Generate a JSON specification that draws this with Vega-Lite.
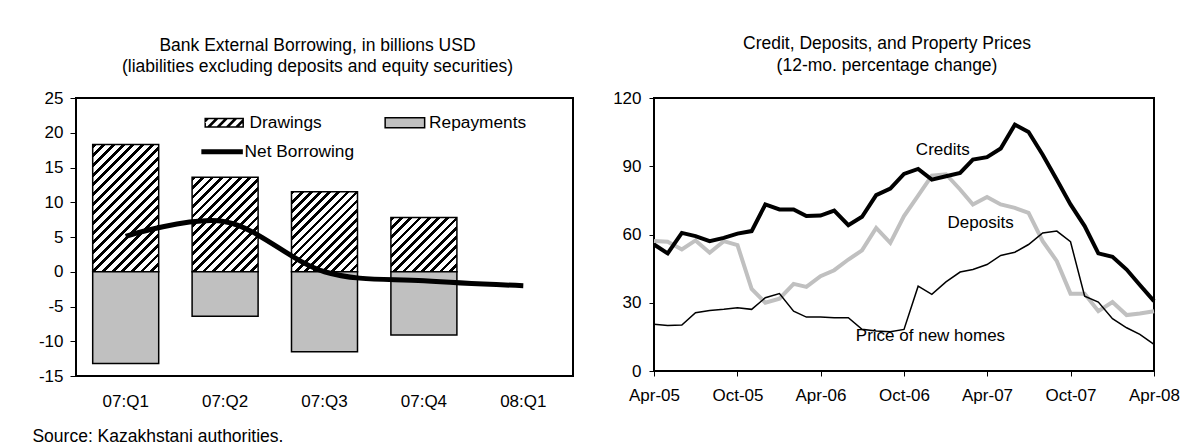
{
  "$schema": "https://vega.github.io/schema/vega-lite/v6.json",
  "padding": {"left": 32, "top": 34, "right": 5, "bottom": 5},
  "background": "#ffffff",
  "datasets": {
    "borrow": [
      {"q": "07:Q1", "series": "Drawings", "value": 18.3},
      {"q": "07:Q2", "series": "Drawings", "value": 13.6},
      {"q": "07:Q3", "series": "Drawings", "value": 11.5},
      {"q": "07:Q4", "series": "Drawings", "value": 7.8},
      {"q": "07:Q1", "series": "Repayments", "value": -13.2},
      {"q": "07:Q2", "series": "Repayments", "value": -6.4},
      {"q": "07:Q3", "series": "Repayments", "value": -11.5},
      {"q": "07:Q4", "series": "Repayments", "value": -9.1},
      {"q": "07:Q1", "series": "Net Borrowing", "value": 5.1},
      {"q": "07:Q2", "series": "Net Borrowing", "value": 7.2},
      {"q": "07:Q3", "series": "Net Borrowing", "value": 0.0},
      {"q": "07:Q4", "series": "Net Borrowing", "value": -1.3},
      {"q": "08:Q1", "series": "Net Borrowing", "value": -2.0}
    ],
    "growth": [
      {"date": "2005-04-01", "credits": 55.6, "deposits": 57.1, "price": 20.5},
      {"date": "2005-05-01", "credits": 51.7, "deposits": 56.8, "price": 20.0},
      {"date": "2005-06-01", "credits": 60.7, "deposits": 53.4, "price": 20.2},
      {"date": "2005-07-01", "credits": 59.3, "deposits": 57.4, "price": 25.6},
      {"date": "2005-08-01", "credits": 57.1, "deposits": 52.0, "price": 26.6},
      {"date": "2005-09-01", "credits": 58.5, "deposits": 57.1, "price": 27.1},
      {"date": "2005-10-01", "credits": 60.4, "deposits": 55.3, "price": 27.8},
      {"date": "2005-11-01", "credits": 61.5, "deposits": 36.1, "price": 27.1},
      {"date": "2005-12-01", "credits": 73.2, "deposits": 30.0, "price": 32.2},
      {"date": "2006-01-01", "credits": 71.0, "deposits": 31.8, "price": 34.0},
      {"date": "2006-02-01", "credits": 71.0, "deposits": 38.3, "price": 26.3},
      {"date": "2006-03-01", "credits": 68.1, "deposits": 37.0, "price": 23.7},
      {"date": "2006-04-01", "credits": 68.3, "deposits": 41.7, "price": 23.7},
      {"date": "2006-05-01", "credits": 70.5, "deposits": 44.3, "price": 23.4},
      {"date": "2006-06-01", "credits": 64.1, "deposits": 49.0, "price": 23.4},
      {"date": "2006-07-01", "credits": 67.8, "deposits": 53.0, "price": 18.3},
      {"date": "2006-08-01", "credits": 77.3, "deposits": 62.9, "price": 17.6},
      {"date": "2006-09-01", "credits": 80.2, "deposits": 56.3, "price": 17.3},
      {"date": "2006-10-01", "credits": 86.6, "deposits": 68.1, "price": 18.3},
      {"date": "2006-11-01", "credits": 88.8, "deposits": 77.1, "price": 37.3},
      {"date": "2006-12-01", "credits": 84.1, "deposits": 85.9, "price": 33.7},
      {"date": "2007-01-01", "credits": 85.6, "deposits": 86.5, "price": 39.2},
      {"date": "2007-02-01", "credits": 87.1, "deposits": 79.8, "price": 43.5},
      {"date": "2007-03-01", "credits": 92.9, "deposits": 73.2, "price": 44.6},
      {"date": "2007-04-01", "credits": 94.0, "deposits": 76.5, "price": 46.8},
      {"date": "2007-05-01", "credits": 97.8, "deposits": 73.2, "price": 50.8},
      {"date": "2007-06-01", "credits": 108.3, "deposits": 71.7, "price": 52.2},
      {"date": "2007-07-01", "credits": 105.1, "deposits": 69.5, "price": 55.6},
      {"date": "2007-08-01", "credits": 95.1, "deposits": 57.1, "price": 60.7},
      {"date": "2007-09-01", "credits": 84.1, "deposits": 48.3, "price": 61.5},
      {"date": "2007-10-01", "credits": 73.2, "deposits": 34.0, "price": 56.8},
      {"date": "2007-11-01", "credits": 63.7, "deposits": 34.0, "price": 32.9},
      {"date": "2007-12-01", "credits": 51.7, "deposits": 26.3, "price": 30.3},
      {"date": "2008-01-01", "credits": 50.2, "deposits": 30.3, "price": 23.0},
      {"date": "2008-02-01", "credits": 44.6, "deposits": 24.6, "price": 19.0},
      {"date": "2008-03-01", "credits": 37.8, "deposits": 25.3, "price": 16.1},
      {"date": "2008-04-01", "credits": 30.7, "deposits": 26.3, "price": 11.7}
    ],
    "labels": [
      {"date": "2006-12-25", "value": 97.3, "label": "Credits"},
      {"date": "2007-03-18", "value": 65.1, "label": "Deposits"},
      {"date": "2006-11-28", "value": 15.4, "label": "Price of new homes"}
    ]
  },
  "title": {"text": "Source: Kazakhstani authorities.", "orient": "bottom", "anchor": "start", "fontSize": 17.5, "fontWeight": "normal", "color": "#000", "offset": 18, "dx": -5},
  "spacing": 37,
  "hconcat": [
    {
      "width": 497,
      "height": 278,
      "title": {"text": ["Bank External Borrowing, in billions USD", "(liabilities excluding deposits and equity securities)"], "fontSize": 17.5, "fontWeight": "normal", "lineHeight": 21.6, "offset": 13, "dx": -7, "anchor": "middle", "color": "#000"},
      "encoding": {
        "x": {"field": "q", "type": "nominal", "scale": {"domain": ["07:Q1", "07:Q2", "07:Q3", "07:Q4", "08:Q1"], "paddingInner": 0.336, "paddingOuter": 0.168}, "axis": {"title": null, "ticks": false, "domain": false, "labelPadding": 17, "labelAngle": 0, "labelFontSize": 17}},
        "y": {"field": "value", "type": "quantitative", "scale": {"domain": [-15, 25], "nice": false, "zero": false}, "axis": {"title": null, "values": [-15, -10, -5, 0, 5, 10, 15, 20, 25], "labelExpr": "datum.value + ''", "labelOverlap": false, "tickSize": 6, "labelPadding": 7, "domain": false, "grid": false, "labelFontSize": 17}}
      },
      "layer": [
        {
          "data": {"name": "borrow"},
          "transform": [{"filter": "datum.series === 'Drawings'"}],
          "mark": {"type": "bar", "stroke": "#000", "strokeWidth": 1.5},
          "encoding": {
            "fill": {
              "field": "series", "type": "nominal",
              "scale": {"domain": ["Drawings"], "range": ["#000000"]},
              "legend": {
                "title": null, "orient": "none", "legendX": 119.8, "legendY": 16, "padding": 0,
                "labelFontSize": 17.3, "labelColor": "#000", "labelOffset": 36.5, "labelLimit": 300,
                "symbolSize": 100, "symbolOffset": 0, "symbolStrokeWidth": 0,
                "symbolType": "M0,-1H7.9V1H0Z M0.3,-0.7V0.7H7.6V-0.7Z M0,-0.6L0.4,-1L1.15,-1L0,0.15Z M0.28,1L2.28,-1L3.03,-1L1.03,1Z M2.16,1L4.16,-1L4.91,-1L2.91,1Z M4.04,1L6.04,-1L6.79,-1L4.79,1Z M5.92,1L7.9,-0.98L7.9,-0.23L6.67,1Z"
              },
              "condition": [
                {"test": "datum.q === '07:Q1'", "value": {"gradient": "linear", "x1": 0, "y1": 0, "x2": 0.6209, "y2": 1.1967, "stops": [
                  {"offset": 0, "color": "#000"}, {"offset": 0.02, "color": "#000"}, {"offset": 0.02, "color": "#fff"}, {"offset": 0.05, "color": "#fff"},
                  {"offset": 0.05, "color": "#000"}, {"offset": 0.07, "color": "#000"}, {"offset": 0.07, "color": "#fff"}, {"offset": 0.1, "color": "#fff"},
                  {"offset": 0.1, "color": "#000"}, {"offset": 0.12, "color": "#000"}, {"offset": 0.12, "color": "#fff"}, {"offset": 0.15, "color": "#fff"},
                  {"offset": 0.15, "color": "#000"}, {"offset": 0.17, "color": "#000"}, {"offset": 0.17, "color": "#fff"}, {"offset": 0.2, "color": "#fff"},
                  {"offset": 0.2, "color": "#000"}, {"offset": 0.22, "color": "#000"}, {"offset": 0.22, "color": "#fff"}, {"offset": 0.25, "color": "#fff"},
                  {"offset": 0.25, "color": "#000"}, {"offset": 0.27, "color": "#000"}, {"offset": 0.27, "color": "#fff"}, {"offset": 0.3, "color": "#fff"},
                  {"offset": 0.3, "color": "#000"}, {"offset": 0.32, "color": "#000"}, {"offset": 0.32, "color": "#fff"}, {"offset": 0.35, "color": "#fff"},
                  {"offset": 0.35, "color": "#000"}, {"offset": 0.37, "color": "#000"}, {"offset": 0.37, "color": "#fff"}, {"offset": 0.4, "color": "#fff"},
                  {"offset": 0.4, "color": "#000"}, {"offset": 0.42, "color": "#000"}, {"offset": 0.42, "color": "#fff"}, {"offset": 0.45, "color": "#fff"},
                  {"offset": 0.45, "color": "#000"}, {"offset": 0.47, "color": "#000"}, {"offset": 0.47, "color": "#fff"}, {"offset": 0.5, "color": "#fff"},
                  {"offset": 0.5, "color": "#000"}, {"offset": 0.52, "color": "#000"}, {"offset": 0.52, "color": "#fff"}, {"offset": 0.55, "color": "#fff"},
                  {"offset": 0.55, "color": "#000"}, {"offset": 0.57, "color": "#000"}, {"offset": 0.57, "color": "#fff"}, {"offset": 0.6, "color": "#fff"},
                  {"offset": 0.6, "color": "#000"}, {"offset": 0.62, "color": "#000"}, {"offset": 0.62, "color": "#fff"}, {"offset": 0.65, "color": "#fff"},
                  {"offset": 0.65, "color": "#000"}, {"offset": 0.67, "color": "#000"}, {"offset": 0.67, "color": "#fff"}, {"offset": 0.7, "color": "#fff"},
                  {"offset": 0.7, "color": "#000"}, {"offset": 0.72, "color": "#000"}, {"offset": 0.72, "color": "#fff"}, {"offset": 0.75, "color": "#fff"},
                  {"offset": 0.75, "color": "#000"}, {"offset": 0.77, "color": "#000"}, {"offset": 0.77, "color": "#fff"}, {"offset": 0.8, "color": "#fff"},
                  {"offset": 0.8, "color": "#000"}, {"offset": 0.82, "color": "#000"}, {"offset": 0.82, "color": "#fff"}, {"offset": 0.85, "color": "#fff"},
                  {"offset": 0.85, "color": "#000"}, {"offset": 0.87, "color": "#000"}, {"offset": 0.87, "color": "#fff"}, {"offset": 0.9, "color": "#fff"},
                  {"offset": 0.9, "color": "#000"}, {"offset": 0.92, "color": "#000"}, {"offset": 0.92, "color": "#fff"}, {"offset": 0.95, "color": "#fff"},
                  {"offset": 0.95, "color": "#000"}, {"offset": 0.97, "color": "#000"}, {"offset": 0.97, "color": "#fff"}, {"offset": 1, "color": "#fff"}
                ]}},
                {"test": "datum.q === '07:Q2'", "value": {"gradient": "linear", "x1": 0, "y1": 0, "x2": 0.7973, "y2": 1.1416, "stops": [
                  {"offset": 0, "color": "#000"}, {"offset": 0.02353, "color": "#000"}, {"offset": 0.02353, "color": "#fff"}, {"offset": 0.05882, "color": "#fff"},
                  {"offset": 0.05882, "color": "#000"}, {"offset": 0.08235, "color": "#000"}, {"offset": 0.08235, "color": "#fff"}, {"offset": 0.11765, "color": "#fff"},
                  {"offset": 0.11765, "color": "#000"}, {"offset": 0.14118, "color": "#000"}, {"offset": 0.14118, "color": "#fff"}, {"offset": 0.17647, "color": "#fff"},
                  {"offset": 0.17647, "color": "#000"}, {"offset": 0.2, "color": "#000"}, {"offset": 0.2, "color": "#fff"}, {"offset": 0.23529, "color": "#fff"},
                  {"offset": 0.23529, "color": "#000"}, {"offset": 0.25882, "color": "#000"}, {"offset": 0.25882, "color": "#fff"}, {"offset": 0.29412, "color": "#fff"},
                  {"offset": 0.29412, "color": "#000"}, {"offset": 0.31765, "color": "#000"}, {"offset": 0.31765, "color": "#fff"}, {"offset": 0.35294, "color": "#fff"},
                  {"offset": 0.35294, "color": "#000"}, {"offset": 0.37647, "color": "#000"}, {"offset": 0.37647, "color": "#fff"}, {"offset": 0.41176, "color": "#fff"},
                  {"offset": 0.41176, "color": "#000"}, {"offset": 0.43529, "color": "#000"}, {"offset": 0.43529, "color": "#fff"}, {"offset": 0.47059, "color": "#fff"},
                  {"offset": 0.47059, "color": "#000"}, {"offset": 0.49412, "color": "#000"}, {"offset": 0.49412, "color": "#fff"}, {"offset": 0.52941, "color": "#fff"},
                  {"offset": 0.52941, "color": "#000"}, {"offset": 0.55294, "color": "#000"}, {"offset": 0.55294, "color": "#fff"}, {"offset": 0.58824, "color": "#fff"},
                  {"offset": 0.58824, "color": "#000"}, {"offset": 0.61176, "color": "#000"}, {"offset": 0.61176, "color": "#fff"}, {"offset": 0.64706, "color": "#fff"},
                  {"offset": 0.64706, "color": "#000"}, {"offset": 0.67059, "color": "#000"}, {"offset": 0.67059, "color": "#fff"}, {"offset": 0.70588, "color": "#fff"},
                  {"offset": 0.70588, "color": "#000"}, {"offset": 0.72941, "color": "#000"}, {"offset": 0.72941, "color": "#fff"}, {"offset": 0.76471, "color": "#fff"},
                  {"offset": 0.76471, "color": "#000"}, {"offset": 0.78824, "color": "#000"}, {"offset": 0.78824, "color": "#fff"}, {"offset": 0.82353, "color": "#fff"},
                  {"offset": 0.82353, "color": "#000"}, {"offset": 0.84706, "color": "#000"}, {"offset": 0.84706, "color": "#fff"}, {"offset": 0.88235, "color": "#fff"},
                  {"offset": 0.88235, "color": "#000"}, {"offset": 0.90588, "color": "#000"}, {"offset": 0.90588, "color": "#fff"}, {"offset": 0.94118, "color": "#fff"},
                  {"offset": 0.94118, "color": "#000"}, {"offset": 0.96471, "color": "#000"}, {"offset": 0.96471, "color": "#fff"}, {"offset": 1, "color": "#fff"}
                ]}},
                {"test": "datum.q === '07:Q3'", "value": {"gradient": "linear", "x1": 0, "y1": 0, "x2": 0.8966, "y2": 1.0854, "stops": [
                  {"offset": 0, "color": "#000"}, {"offset": 0.025, "color": "#000"}, {"offset": 0.025, "color": "#fff"}, {"offset": 0.0625, "color": "#fff"},
                  {"offset": 0.0625, "color": "#000"}, {"offset": 0.0875, "color": "#000"}, {"offset": 0.0875, "color": "#fff"}, {"offset": 0.125, "color": "#fff"},
                  {"offset": 0.125, "color": "#000"}, {"offset": 0.15, "color": "#000"}, {"offset": 0.15, "color": "#fff"}, {"offset": 0.1875, "color": "#fff"},
                  {"offset": 0.1875, "color": "#000"}, {"offset": 0.2125, "color": "#000"}, {"offset": 0.2125, "color": "#fff"}, {"offset": 0.25, "color": "#fff"},
                  {"offset": 0.25, "color": "#000"}, {"offset": 0.275, "color": "#000"}, {"offset": 0.275, "color": "#fff"}, {"offset": 0.3125, "color": "#fff"},
                  {"offset": 0.3125, "color": "#000"}, {"offset": 0.3375, "color": "#000"}, {"offset": 0.3375, "color": "#fff"}, {"offset": 0.375, "color": "#fff"},
                  {"offset": 0.375, "color": "#000"}, {"offset": 0.4, "color": "#000"}, {"offset": 0.4, "color": "#fff"}, {"offset": 0.4375, "color": "#fff"},
                  {"offset": 0.4375, "color": "#000"}, {"offset": 0.4625, "color": "#000"}, {"offset": 0.4625, "color": "#fff"}, {"offset": 0.5, "color": "#fff"},
                  {"offset": 0.5, "color": "#000"}, {"offset": 0.525, "color": "#000"}, {"offset": 0.525, "color": "#fff"}, {"offset": 0.5625, "color": "#fff"},
                  {"offset": 0.5625, "color": "#000"}, {"offset": 0.5875, "color": "#000"}, {"offset": 0.5875, "color": "#fff"}, {"offset": 0.625, "color": "#fff"},
                  {"offset": 0.625, "color": "#000"}, {"offset": 0.65, "color": "#000"}, {"offset": 0.65, "color": "#fff"}, {"offset": 0.6875, "color": "#fff"},
                  {"offset": 0.6875, "color": "#000"}, {"offset": 0.7125, "color": "#000"}, {"offset": 0.7125, "color": "#fff"}, {"offset": 0.75, "color": "#fff"},
                  {"offset": 0.75, "color": "#000"}, {"offset": 0.775, "color": "#000"}, {"offset": 0.775, "color": "#fff"}, {"offset": 0.8125, "color": "#fff"},
                  {"offset": 0.8125, "color": "#000"}, {"offset": 0.8375, "color": "#000"}, {"offset": 0.8375, "color": "#fff"}, {"offset": 0.875, "color": "#fff"},
                  {"offset": 0.875, "color": "#000"}, {"offset": 0.9, "color": "#000"}, {"offset": 0.9, "color": "#fff"}, {"offset": 0.9375, "color": "#fff"},
                  {"offset": 0.9375, "color": "#000"}, {"offset": 0.9625, "color": "#000"}, {"offset": 0.9625, "color": "#fff"}, {"offset": 1, "color": "#fff"}
                ]}},
                {"test": "datum.q === '07:Q4'", "value": {"gradient": "linear", "x1": 0, "y1": 0, "x2": 1.0877, "y2": 0.8932, "stops": [
                  {"offset": 0, "color": "#000"}, {"offset": 0.03077, "color": "#000"}, {"offset": 0.03077, "color": "#fff"}, {"offset": 0.07692, "color": "#fff"},
                  {"offset": 0.07692, "color": "#000"}, {"offset": 0.10769, "color": "#000"}, {"offset": 0.10769, "color": "#fff"}, {"offset": 0.15385, "color": "#fff"},
                  {"offset": 0.15385, "color": "#000"}, {"offset": 0.18462, "color": "#000"}, {"offset": 0.18462, "color": "#fff"}, {"offset": 0.23077, "color": "#fff"},
                  {"offset": 0.23077, "color": "#000"}, {"offset": 0.26154, "color": "#000"}, {"offset": 0.26154, "color": "#fff"}, {"offset": 0.30769, "color": "#fff"},
                  {"offset": 0.30769, "color": "#000"}, {"offset": 0.33846, "color": "#000"}, {"offset": 0.33846, "color": "#fff"}, {"offset": 0.38462, "color": "#fff"},
                  {"offset": 0.38462, "color": "#000"}, {"offset": 0.41538, "color": "#000"}, {"offset": 0.41538, "color": "#fff"}, {"offset": 0.46154, "color": "#fff"},
                  {"offset": 0.46154, "color": "#000"}, {"offset": 0.49231, "color": "#000"}, {"offset": 0.49231, "color": "#fff"}, {"offset": 0.53846, "color": "#fff"},
                  {"offset": 0.53846, "color": "#000"}, {"offset": 0.56923, "color": "#000"}, {"offset": 0.56923, "color": "#fff"}, {"offset": 0.61538, "color": "#fff"},
                  {"offset": 0.61538, "color": "#000"}, {"offset": 0.64615, "color": "#000"}, {"offset": 0.64615, "color": "#fff"}, {"offset": 0.69231, "color": "#fff"},
                  {"offset": 0.69231, "color": "#000"}, {"offset": 0.72308, "color": "#000"}, {"offset": 0.72308, "color": "#fff"}, {"offset": 0.76923, "color": "#fff"},
                  {"offset": 0.76923, "color": "#000"}, {"offset": 0.8, "color": "#000"}, {"offset": 0.8, "color": "#fff"}, {"offset": 0.84615, "color": "#fff"},
                  {"offset": 0.84615, "color": "#000"}, {"offset": 0.87692, "color": "#000"}, {"offset": 0.87692, "color": "#fff"}, {"offset": 0.92308, "color": "#fff"},
                  {"offset": 0.92308, "color": "#000"}, {"offset": 0.95385, "color": "#000"}, {"offset": 0.95385, "color": "#fff"}, {"offset": 1, "color": "#fff"}
                ]}}
              ]
            }
          }
        },
        {
          "data": {"name": "borrow"},
          "transform": [{"filter": "datum.series === 'Repayments'"}],
          "mark": {"type": "bar", "fill": "#c0c0c0", "strokeWidth": 1.5},
          "encoding": {
            "stroke": {
              "field": "series", "type": "nominal",
              "scale": {"domain": ["Repayments"], "range": ["#000000"]},
              "legend": {
                "title": null, "orient": "none", "legendX": 300.5, "legendY": 16, "padding": 0,
                "labelFontSize": 17.3, "labelColor": "#000", "labelOffset": 35.3, "labelLimit": 300,
                "symbolSize": 100, "symbolOffset": 0, "symbolStrokeWidth": 1.5, "symbolFillColor": "#c0c0c0",
                "symbolType": "M0,-1H7.9V1H0Z"
              }
            }
          }
        },
        {
          "data": {"values": [{}]},
          "mark": {"type": "rule", "color": "#000", "strokeWidth": 1},
          "encoding": {"y": {"datum": 0, "type": "quantitative"}, "x": null}
        },
        {
          "data": {"name": "borrow"},
          "transform": [{"filter": "datum.series === 'Net Borrowing'"}],
          "mark": {"type": "line", "strokeWidth": 5, "interpolate": "cardinal"},
          "encoding": {
            "color": {
              "field": "series", "type": "nominal",
              "scale": {"domain": ["Net Borrowing"], "range": ["#000000"]},
              "legend": {
                "title": null, "orient": "none", "legendX": 116.7, "legendY": 45, "padding": 0,
                "labelFontSize": 17.3, "labelColor": "#000", "labelOffset": 34.6, "labelLimit": 300,
                "symbolSize": 100, "symbolOffset": 0, "symbolType": "M0,0H8.3", "symbolStrokeWidth": 5, "symbolStrokeColor": "#000"
              }
            }
          }
        }
      ]
    },
    {
      "width": 500,
      "height": 273,
      "title": {"text": ["Credit, Deposits, and Property Prices", "(12-mo. percentage change)"], "fontSize": 17.5, "fontWeight": "normal", "lineHeight": 21.6, "offset": 14.6, "dx": -17, "anchor": "middle", "color": "#000"},
      "layer": [
        {
          "data": {"name": "growth"},
          "mark": {"type": "line", "color": "#c0c0c0", "strokeWidth": 4},
          "encoding": {
            "x": {"field": "date", "type": "temporal", "scale": {"type": "utc", "domain": [{"year": 2005, "month": 4, "date": 1, "utc": true}, {"year": 2008, "month": 4, "date": 1, "utc": true}]},
              "axis": {"title": null, "format": "%b-%y", "tickSize": 5, "labelPadding": 11.5, "domain": false, "grid": false, "labelFlush": false, "labelOverlap": false, "labelFontSize": 17,
                "values": [{"year": 2005, "month": 4, "date": 1, "utc": true}, {"year": 2005, "month": 10, "date": 1, "utc": true}, {"year": 2006, "month": 4, "date": 1, "utc": true}, {"year": 2006, "month": 10, "date": 1, "utc": true}, {"year": 2007, "month": 4, "date": 1, "utc": true}, {"year": 2007, "month": 10, "date": 1, "utc": true}, {"year": 2008, "month": 4, "date": 1, "utc": true}]}},
            "y": {"field": "deposits", "type": "quantitative", "scale": {"domain": [0, 120], "nice": false}, "axis": {"title": null, "values": [0, 30, 60, 90, 120], "labelOverlap": false, "tickSize": 5, "labelPadding": 8, "domain": false, "grid": false, "labelFontSize": 17}}
          }
        },
        {
          "data": {"name": "growth"},
          "mark": {"type": "line", "color": "#000", "strokeWidth": 4},
          "encoding": {
            "x": {"field": "date", "type": "temporal"},
            "y": {"field": "credits", "type": "quantitative"}
          }
        },
        {
          "data": {"name": "growth"},
          "mark": {"type": "line", "color": "#000", "strokeWidth": 1.5},
          "encoding": {
            "x": {"field": "date", "type": "temporal"},
            "y": {"field": "price", "type": "quantitative"}
          }
        },
        {
          "data": {"name": "labels"},
          "mark": {"type": "text", "fontSize": 17, "color": "#000", "align": "center", "baseline": "middle"},
          "encoding": {
            "x": {"field": "date", "type": "temporal"},
            "y": {"field": "value", "type": "quantitative"},
            "text": {"field": "label"}
          }
        }
      ]
    }
  ],
  "config": {
    "font": "Liberation Sans",
    "view": {"stroke": "#000", "strokeWidth": 2},
    "axis": {"labelColor": "#000", "tickColor": "#000", "tickWidth": 1, "labelFontSize": 17, "grid": false, "domain": false},
    "title": {"color": "#000", "fontWeight": "normal", "fontSize": 17.5}
  }
}
